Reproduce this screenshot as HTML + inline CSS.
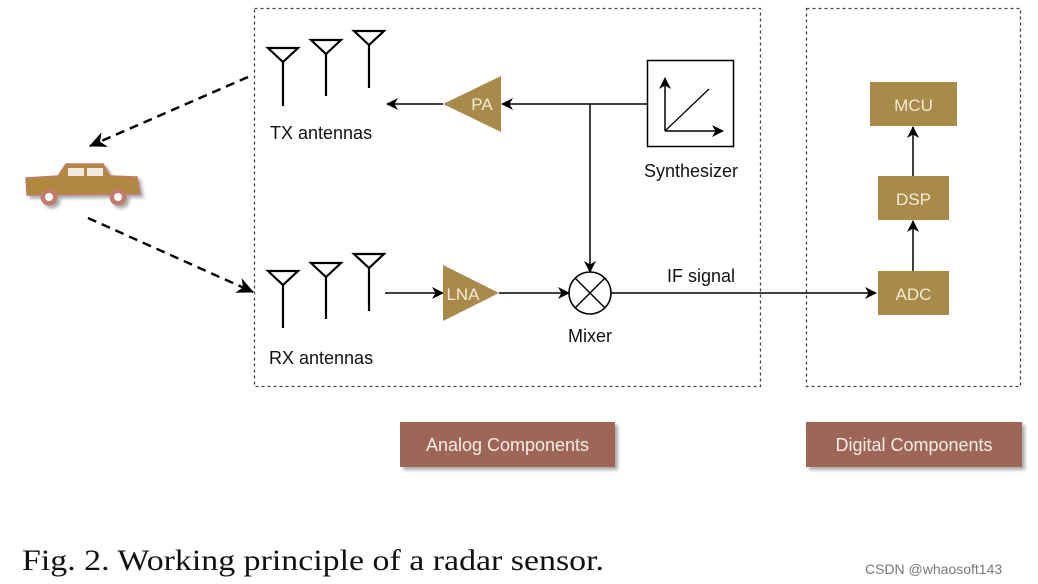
<!DOCTYPE html>
<html><head><meta charset="utf-8"><style>
html,body{margin:0;padding:0;background:#fff;}
svg{display:block;}
</style></head><body>
<svg width="1038" height="584" viewBox="0 0 1038 584" xmlns="http://www.w3.org/2000/svg" font-family="Liberation Sans, Arial, sans-serif">
<defs>
<marker id="ah" markerWidth="12" markerHeight="12" refX="11" refY="6" orient="auto" markerUnits="userSpaceOnUse">
<path d="M0,0 L12,6 L0,12 L3.5,6 z" fill="#000"/>
</marker>
<marker id="ahb" markerWidth="18" markerHeight="16" refX="16" refY="8" orient="auto" markerUnits="userSpaceOnUse">
<path d="M0,0 L17,8 L0,16 L5,8 z" fill="#000"/>
</marker>
<filter id="sh" x="-10%" y="-10%" width="130%" height="140%"><feDropShadow dx="3" dy="3" stdDeviation="1.5" flood-color="#888" flood-opacity="0.7"/></filter>
</defs>
<rect x="254.5" y="8.5" width="506" height="378" fill="none" stroke="#444" stroke-width="1.3" stroke-dasharray="3,3"/>
<rect x="806.5" y="8.5" width="214" height="378" fill="none" stroke="#444" stroke-width="1.3" stroke-dasharray="3,3"/>

<g stroke="#000" stroke-width="2.2" fill="none">
<path d="M268,48 L298,48 L283,62 Z M283,62 L283,106"/>
<path d="M311,40 L341,40 L326,54 Z M326,54 L326,96"/>
<path d="M354,31 L384,31 L369,45 Z M369,45 L369,88"/>
<path d="M268,271 L298,271 L283,285 Z M283,285 L283,328"/>
<path d="M311,263 L341,263 L326,277 Z M326,277 L326,319"/>
<path d="M354,254 L384,254 L369,268 Z M369,268 L369,311"/>
</g>
<text x="270" y="139" font-size="18" fill="#111">TX antennas</text>
<text x="269" y="364" font-size="18" fill="#111">RX antennas</text>

<polygon points="443,104 501,76 501,132" fill="#a88b4a"/>
<text x="482" y="110" font-size="17" fill="#f3ead5" text-anchor="middle">PA</text>
<line x1="443" y1="104" x2="387" y2="104" stroke="#000" stroke-width="1.5" marker-end="url(#ah)"/>
<line x1="647" y1="104" x2="502" y2="104" stroke="#000" stroke-width="1.5" marker-end="url(#ah)"/>
<line x1="590" y1="104" x2="590" y2="272" stroke="#000" stroke-width="1.5" marker-end="url(#ah)"/>

<rect x="647.5" y="60.5" width="86" height="86" fill="#fff" stroke="#000" stroke-width="1.5"/>
<line x1="665" y1="131" x2="665" y2="78" stroke="#000" stroke-width="1.5" marker-end="url(#ah)"/>
<line x1="665" y1="131" x2="723" y2="131" stroke="#000" stroke-width="1.5" marker-end="url(#ah)"/>
<line x1="665" y1="131" x2="709" y2="89" stroke="#000" stroke-width="1.3"/>
<text x="691" y="177" font-size="18" fill="#111" text-anchor="middle">Synthesizer</text>

<line x1="385" y1="293" x2="443" y2="293" stroke="#000" stroke-width="1.5" marker-end="url(#ah)"/>
<polygon points="443,265 443,321 499,293" fill="#a88b4a"/>
<text x="463" y="300" font-size="17" fill="#f3ead5" text-anchor="middle">LNA</text>
<line x1="499" y1="293" x2="569" y2="293" stroke="#000" stroke-width="1.5" marker-end="url(#ah)"/>

<circle cx="590" cy="293" r="21" fill="#fff" stroke="#000" stroke-width="1.6"/>
<line x1="575" y1="278" x2="605" y2="308" stroke="#000" stroke-width="1.4"/>
<line x1="605" y1="278" x2="575" y2="308" stroke="#000" stroke-width="1.4"/>
<text x="590" y="342" font-size="18" fill="#111" text-anchor="middle">Mixer</text>
<line x1="611" y1="293" x2="876" y2="293" stroke="#000" stroke-width="1.5" marker-end="url(#ah)"/>
<text x="667" y="282" font-size="18" fill="#111">IF signal</text>

<rect x="878" y="271" width="71" height="44" fill="#a88b4a"/>
<text x="913.5" y="300" font-size="17" fill="#f3ead5" text-anchor="middle">ADC</text>
<rect x="878" y="176" width="71" height="44" fill="#a88b4a"/>
<text x="913.5" y="205" font-size="17" fill="#f3ead5" text-anchor="middle">DSP</text>
<rect x="870" y="82" width="87" height="44" fill="#a88b4a"/>
<text x="913.5" y="111" font-size="17" fill="#f3ead5" text-anchor="middle">MCU</text>
<line x1="913" y1="271" x2="913" y2="221" stroke="#000" stroke-width="1.5" marker-end="url(#ah)"/>
<line x1="913" y1="176" x2="913" y2="127" stroke="#000" stroke-width="1.5" marker-end="url(#ah)"/>

<line x1="248" y1="77" x2="90" y2="146" stroke="#000" stroke-width="2.4" stroke-dasharray="9,6" marker-end="url(#ahb)"/>
<line x1="88" y1="218" x2="253" y2="292" stroke="#000" stroke-width="2.4" stroke-dasharray="9,6" marker-end="url(#ahb)"/>

<g filter="url(#sh)">
<path d="M26,178 L58,176 L66,164 L103,164 L110,176 L137,177 L140,194 L27,195 Z" fill="#b0883f" stroke="#c27b6a" stroke-width="1.5"/>
<rect x="68" y="168" width="16" height="8" fill="#f2e8e0"/>
<rect x="87" y="168" width="16" height="8" fill="#f2e8e0"/>
<circle cx="49" cy="197" r="8.5" fill="#c27b6a"/>
<circle cx="49" cy="197" r="4" fill="#fff"/>
<circle cx="118" cy="197" r="8.5" fill="#c27b6a"/>
<circle cx="118" cy="197" r="4" fill="#fff"/>
</g>

<rect x="400" y="422" width="215" height="45" fill="#9e6656" filter="url(#sh)"/>
<text x="507.5" y="451" font-size="18" fill="#f4ece6" text-anchor="middle">Analog Components</text>
<rect x="806" y="422" width="216" height="45" fill="#9e6656" filter="url(#sh)"/>
<text x="914" y="451" font-size="18" fill="#f4ece6" text-anchor="middle">Digital Components</text>

<text x="22" y="570" font-family="Liberation Serif, Times New Roman, serif" font-size="30" fill="#111" textLength="582" lengthAdjust="spacingAndGlyphs">Fig. 2.  Working principle of a radar sensor.</text>
<text x="865" y="574" font-size="14" fill="#777">CSDN @whaosoft143</text>
</svg>
</body></html>
